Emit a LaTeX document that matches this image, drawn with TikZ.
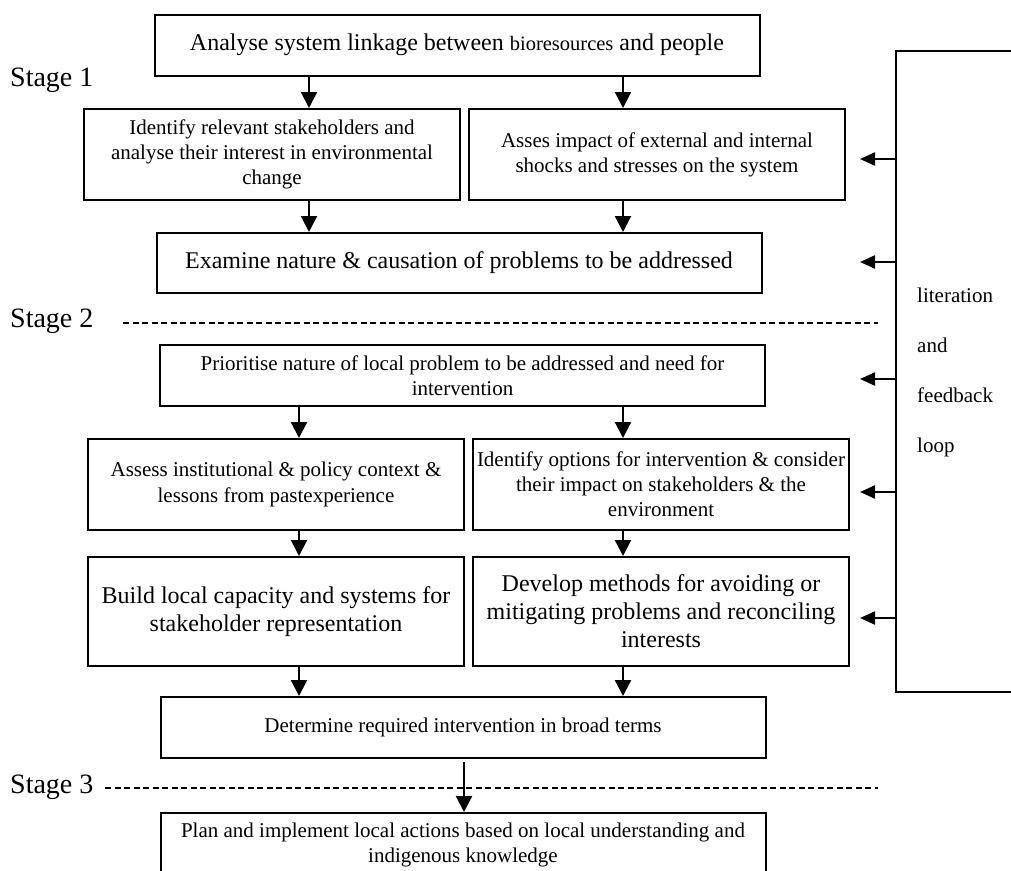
\documentclass[tikz,border=0pt]{standalone}
\usepackage{fontspec}
\setmainfont{Liberation Serif}
\usepackage{tikz}
\usetikzlibrary{arrows.meta, positioning, calc}

\newcommand{\boxbig}{\fontsize{24}{28}\selectfont}
\newcommand{\boxsmall}{\fontsize{21}{25.2}\selectfont}
\newcommand{\stagesize}{\fontsize{28}{32}\selectfont}

\tikzset{
    flowbox/.style={draw, line width=2pt, align=center, inner sep=2pt},
    widebox/.style={flowbox, minimum width=605, minimum height=61},
    halfbox/.style={flowbox, minimum width=376, minimum height=91},
    downarrow/.style={line width=2.2pt, -{Triangle[width=16pt, length=16pt]}},
    fbarrow/.style={line width=2.2pt, -{Triangle[width=13pt, length=15pt]}},
    stageline/.style={line width=1.2pt, dash pattern=on 6pt off 3.5pt}
}

\begin{document}
\begin{tikzpicture}[x=1pt, y=-1pt]
    \clip (0,0) rectangle (1011,870);

    % stage 1
    \node[widebox, font=\boxbig] (analyse) at (457,45)
        {Analyse system linkage between {\fontsize{20.5}{24}\selectfont bioresources} and people};
    \node[halfbox, font=\boxsmall] (stakeholders) at (272,154.5)
        {Identify relevant stakeholders and\\analyse their interest in environmental\\change};
    \node[halfbox, font=\boxsmall] (shocks) at (657,154.5)
        {Asses impact of external and internal\\shocks and stresses on the system};
    \node[widebox, font=\boxbig, minimum height=60] (examine) at (459,263)
        {Examine nature \& causation of problems to be addressed};

    % stage 2
    \node[widebox, font=\boxsmall] (prioritise) at (462.5,375.5)
        {Prioritise nature of local problem to be addressed and need for\\intervention};
    \node[halfbox, font=\boxsmall] (context) at (276,484.5)
        {Assess institutional \& policy context \&\\lessons from pastexperience};
    \node[halfbox, font=\boxsmall, inner sep=0pt] (options) at (661,484.5)
        {Identify options for intervention \& consider\\their impact on stakeholders \& the\\environment};
    \node[halfbox, font=\boxbig, minimum height=109] (capacity) at (276,611.5)
        {Build local capacity and systems for\\stakeholder representation};
    \node[halfbox, font=\boxbig, minimum height=109] (methods) at (661,611.5)
        {Develop methods for avoiding or\\mitigating problems and reconciling\\interests};
    \node[widebox, font=\boxsmall] (determine) at (463,727.5)
        {Determine required intervention in broad terms};

    % stage 3
    \node[widebox, font=\boxsmall, minimum height=64] (plan) at (463,845)
        {Plan and implement local actions based on local understanding and\\indigenous knowledge};

    % stage labels
    \node[font=\stagesize, anchor=west, inner sep=0pt] (stage1) at (10,80) {Stage 1};
    \node[font=\stagesize, anchor=west, inner sep=0pt] (stage2) at (10,321) {Stage 2};
    \node[font=\stagesize, anchor=west, inner sep=0pt] (stage3) at (10,787) {Stage 3};
    \draw[stageline] (123,323) -- (878,323);
    \draw[stageline] (105,788) -- (878,788);

    % arrows down
    \draw[downarrow] (analyse.south -| 309,0) -- (stakeholders.north -| 309,0);
    \draw[downarrow] (analyse.south -| 623,0) -- (shocks.north -| 623,0);
    \draw[downarrow] (stakeholders.south -| 309,0) -- (examine.north -| 309,0);
    \draw[downarrow] (shocks.south -| 623,0) -- (examine.north -| 623,0);
    \draw[downarrow] (prioritise.south -| 299,0) -- (context.north -| 299,0);
    \draw[downarrow] (prioritise.south -| 623,0) -- (options.north -| 623,0);
    \draw[downarrow] (context.south -| 299,0) -- (capacity.north -| 299,0);
    \draw[downarrow] (options.south -| 623,0) -- (methods.north -| 623,0);
    \draw[downarrow] (capacity.south -| 299,0) -- (determine.north -| 299,0);
    \draw[downarrow] (methods.south -| 623,0) -- (determine.north -| 623,0);
    \draw[downarrow] ([yshift=-3pt]determine.south -| 464,0) -- (plan.north -| 464,0);

    % feedback loop
    \node[draw, line width=2pt, anchor=north west, minimum width=140, minimum height=641] (loop) at (895,50) {};
    \node[font=\fontsize{21}{50}\selectfont, align=left, anchor=west, inner sep=0pt] (loopnote) at (917,372)
        {literation\\and\\feedback\\loop};
    \foreach \y in {159,262,379,492,618}
        \draw[fbarrow] (loop.west |- 0,\y) -- ++(-35,0);
\end{tikzpicture}
\end{document}
